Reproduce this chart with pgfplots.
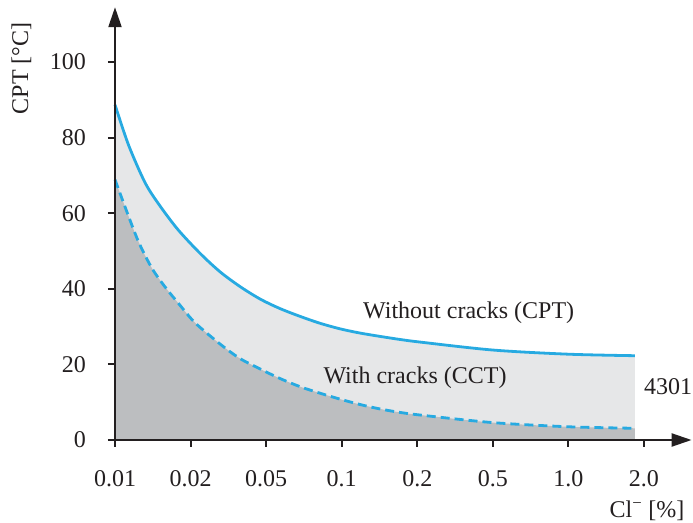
\documentclass[border=0pt]{standalone}
\usepackage{pgfplots}
\pgfplotsset{compat=1.18}
\usepackage{fontspec}
\setmainfont{Liberation Serif}
\usetikzlibrary{arrows.meta}
\definecolor{cblue}{HTML}{27AAE1}
\definecolor{lgrey}{HTML}{E6E7E8}
\definecolor{dgrey}{HTML}{BCBEC0}
\definecolor{axc}{HTML}{231F20}
\pgfplotstableread{
x y
0 88.7
0.18 78
0.4 68
0.6 61.8
0.84 55.5
1.13 49.3
1.39 44.5
1.654 40.6
1.92 37.3
2.18 34.8
2.45 32.7
2.71 30.9
2.98 29.4
3.24 28.3
3.51 27.4
3.77 26.6
4.04 25.9
5 23.8
6 22.7
6.88 22.3
}\cpt
\pgfplotstableread{
x y
0 68.9
0.14 61.3
0.31 52.5
0.49 45.4
0.67 40.3
0.85 35.9
1.06 31.0
1.39 25.4
1.65 21.6
1.92 18.8
2.18 16.3
2.45 14.1
2.71 12.4
2.98 10.8
3.24 9.4
3.51 8.2
3.77 7.3
4.04 6.6
5 4.6
6 3.5
6.88 3.1
}\cct
\newcommand{\ff}{\fontsize{24bp}{28bp}\selectfont}
\begin{document}
\begin{tikzpicture}
\useasboundingbox (0,0) rectangle (693bp,523bp);
\begin{axis}[
  at={(115bp,83bp)}, anchor=south west,
  scale only axis, width=576.6bp, height=432.8bp,
  xmin=0, xmax=7.63, ymin=0, ymax=114.5,
  axis lines=left,
  axis line style={line width=2.2bp, color=axc, -{Triangle[length=20bp,width=13bp]}},
  axis on top,
  clip=false,
  xtick={0,...,7},
  xticklabels={0.01,0.02,0.05,0.1,0.2,0.5,1.0,2.0},
  ytick={0,20,...,100},
  tick align=outside,
  major tick length=7bp,
  xtick style={line width=2bp, color=axc},
  ytick style={line width=2bp, color=axc},
  every tick label/.append style={font=\ff, text=axc},
  x tick label style={anchor=north, inner sep=0pt, yshift=-23bp},
  y tick label style={anchor=east, inner sep=0pt, xshift=-22bp},
  /pgf/number format/assume math mode=true,
]
\addplot[fill=lgrey, draw=none, smooth] table {\cpt} \closedcycle;
\addplot[fill=dgrey, draw=none, smooth] table {\cct} \closedcycle;
\addplot[cblue, line width=2.8bp, smooth] table {\cpt};
\addplot[cblue, line width=2.8bp, dash pattern=on 9bp off 5bp, smooth] table {\cct};
\node[font=\ff, text=axc] at (axis cs:4.68,33.6) {Without cracks (CPT)};
\node[font=\ff, text=axc] at (axis cs:3.97,16.5) {With cracks (CCT)};
\node[font=\ff, text=axc] at (axis cs:7.32,14.0) {4301};
\node[font=\ff, text=axc, rotate=90] at (axis cs:-1.24,98.3) {CPT [°C]};
\node[font=\ff, text=axc] at (axis cs:7.04,-18.8) {Cl\textsuperscript{−} [\%]};
\end{axis}
\end{tikzpicture}
\end{document}
